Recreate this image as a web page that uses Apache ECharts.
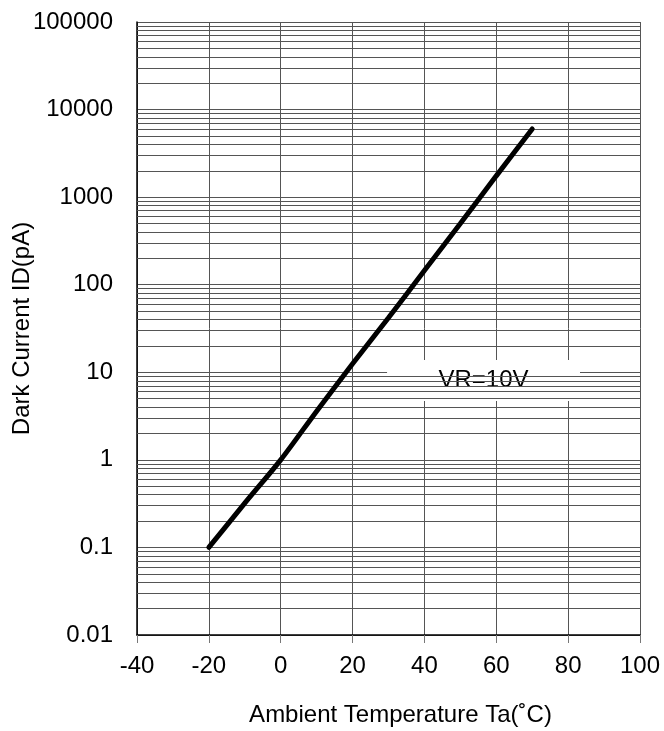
<!DOCTYPE html>
<html>
<head>
<meta charset="utf-8">
<script src="https://cdn.jsdelivr.net/npm/echarts@6/dist/echarts.min.js"></script>
<style>
	html, body { margin: 0; padding: 0; background: #fff; }
	#chart { width: 664px; height: 731px; }
</style>
</head>
<body>
<div id="chart"></div>
<script>
// temperature (C) vs dark current (pA)
var temps = [-20, -10, 0, 10, 20, 30, 40, 50, 60, 70];
var darkCurrent = [0.1, 0.32, 1, 3.6, 12.5, 42, 145, 500, 1750, 6000];

var xTicks = [-40, -20, 0, 20, 40, 60, 80, 100];
var yTickLabels = ['0.01', '0.1', '1', '10', '100', '1000', '10000', '100000'];
var yDecades = [0.01, 0.1, 1, 10, 100, 1000, 10000];
var minorSteps = [2, 3, 4, 5, 6, 7, 8, 9];

// label box corners in data units (x from 29.6 to 83.3, y from 4.7 to 13.8)
var noteText = 'VR=10V';
var noteBox = [[29.6, 4.7], [83.3, 13.8]];

var font = 'Liberation Sans, Arial, sans-serif';
var gridColor = '#555';

var minorLines = [];
yDecades.forEach(function(d){
	minorSteps.forEach(function(s){
		minorLines.push({ yAxis: +(d * s).toPrecision(3) });
	});
});

var chart = echarts.init(document.getElementById('chart'));

chart.setOption({
	animation: false,
	backgroundColor: '#fff',
	grid: { left: 137, top: 22, right: 24, bottom: 96, containLabel: false, outerBoundsMode: 'none' },
	xAxis: {
		type: 'value',
		min: xTicks[0],
		max: xTicks[xTicks.length - 1],
		interval: 20,
		name: 'Ambient Temperature Ta(˚C)',
		nameLocation: 'middle',
		nameGap: 68,
		nameMoveOverlap: false,
		nameTextStyle: { fontFamily: font, fontSize: 24, color: '#000', padding: [0, 0, 0, 24] },
		axisLine: { onZero: false, lineStyle: { color: '#000', width: 1.5 } },
		axisTick: { show: true, inside: false, length: 8, lineStyle: { color: '#777' } },
		axisLabel: { fontFamily: font, fontSize: 24, color: '#000', margin: 19 },
		splitLine: { show: true, lineStyle: { color: gridColor, width: 1 } }
	},
	yAxis: {
		type: 'log',
		logBase: 10,
		min: 0.01,
		max: 100000,
		name: 'Dark Current ID(pA)',
		nameLocation: 'middle',
		nameGap: 103,
		nameMoveOverlap: false,
		nameTextStyle: { fontFamily: font, fontSize: 24, color: '#000' },
		axisLine: { show: true, onZero: false, lineStyle: { color: '#000', width: 1.5 } },
		axisTick: { show: false },
		axisLabel: {
			fontFamily: font, fontSize: 24, color: '#000', margin: 24,
			formatter: function(v){
				var i = Math.round(Math.log10(v)) + 2;
				return yTickLabels[i] || '';
			}
		},
		splitLine: { show: true, lineStyle: { color: gridColor, width: 1 } }
	},
	series: [
		{
			name: 'minor grid',
			type: 'line',
			data: [],
			silent: true,
			z: 1,
			markLine: {
				silent: true,
				symbol: 'none',
				label: { show: false },
				lineStyle: { color: gridColor, width: 1, type: 'solid' },
				data: minorLines
			}
		},
		{
			name: 'note',
			type: 'line',
			data: [],
			silent: true,
			z: 3,
			markArea: {
				silent: true,
				itemStyle: { color: '#fff', opacity: 1 },
				label: {
					show: true,
					position: 'inside',
					formatter: noteText,
					fontFamily: font,
					fontSize: 24,
					color: '#000'
				},
				data: [[{ coord: noteBox[0] }, { coord: noteBox[1] }]]
			}
		},
		{
			name: 'ID',
			type: 'line',
			data: temps.map(function(t, i){ return [t, darkCurrent[i]]; }),
			smooth: 0.3,
			showSymbol: false,
			z: 5,
			lineStyle: { color: '#000', width: 5, cap: 'round' }
		}
	]
});
</script>
</body>
</html>
